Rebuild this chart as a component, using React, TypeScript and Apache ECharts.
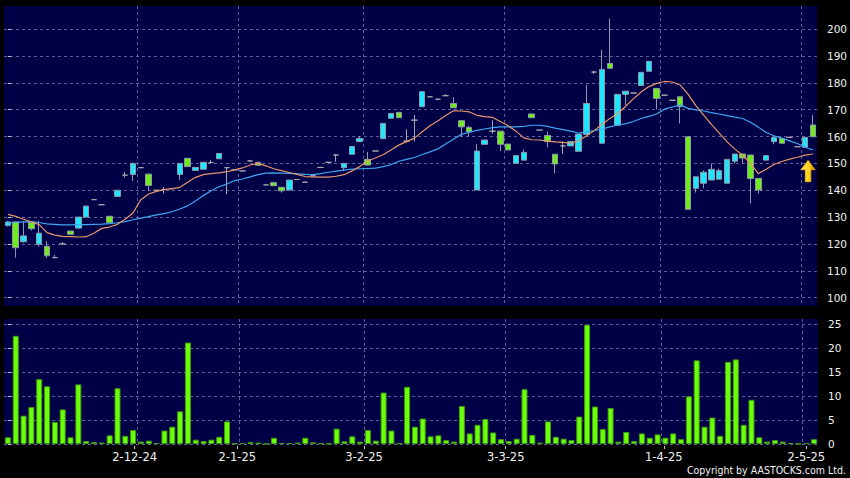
import { useEffect, useRef } from 'react';
import * as echarts from 'echarts';

// [open, close, low, high]
const candles: [number, number, number, number][] = [
  [126.9, 128.2, 126.5, 128.6], [128.2, 118.6, 114.9, 128.5], [120.8, 123.0, 120.5, 128.3], [128.1, 125.7, 125.0, 128.3],
  [119.9, 124.0, 119.0, 128.5], [119.1, 115.6, 114.8, 121.0], [114.9, 114.9, 114.9, 115.9], [120.0, 120.0, 119.8, 120.7],
  [124.8, 123.6, 123.4, 125.0], [125.9, 130.0, 125.9, 130.0], [130.0, 134.1, 130.0, 134.1], [136.5, 136.5, 136.5, 136.5],
  [134.6, 134.6, 134.6, 134.6], [130.3, 127.9, 127.9, 130.3], [137.7, 140.0, 137.7, 140.0], [145.6, 145.6, 144.8, 146.7],
  [145.9, 150.0, 143.5, 150.3], [148.4, 148.4, 148.4, 148.4], [146.0, 141.8, 139.8, 146.2], [140.0, 140.0, 140.0, 140.0],
  [140.3, 140.3, 138.9, 141.2], [140.6, 140.6, 140.6, 140.6], [145.9, 150.0, 143.8, 150.0], [151.9, 148.8, 148.8, 152.0],
  [147.4, 148.5, 147.4, 148.5], [147.8, 150.4, 147.8, 150.4], [150.3, 150.3, 150.3, 151.2], [151.7, 153.7, 151.7, 153.7],
  [148.4, 148.4, 138.5, 148.6], [147.6, 147.6, 147.6, 147.6], [147.2, 147.2, 147.2, 147.2], [150.9, 150.9, 150.9, 151.3],
  [150.4, 149.3, 149.3, 150.4], [142.0, 142.0, 142.0, 142.0], [142.8, 141.7, 141.5, 143.2], [141.1, 139.8, 139.1, 141.1],
  [140.1, 143.8, 140.1, 143.8], [144.0, 144.0, 144.0, 144.0], [143.0, 143.0, 143.0, 143.0], [145.4, 145.4, 145.4, 145.4],
  [148.5, 148.5, 148.5, 148.5], [150.4, 150.4, 150.4, 150.4], [153.1, 153.1, 150.6, 153.4], [148.4, 150.0, 147.2, 150.0],
  [153.4, 156.3, 153.4, 156.3], [158.1, 159.3, 158.1, 160.2], [151.5, 149.4, 149.2, 154.3], [154.6, 154.6, 154.6, 154.6],
  [159.2, 164.9, 159.2, 164.9], [166.8, 168.6, 166.8, 168.6], [169.0, 167.0, 167.0, 169.0], [158.3, 158.3, 157.8, 162.7],
  [166.1, 166.1, 158.2, 168.0], [171.1, 176.7, 171.1, 176.7], [174.8, 174.8, 174.8, 174.8], [173.9, 173.9, 173.5, 173.9],
  [175.2, 175.2, 175.2, 175.8], [172.3, 170.7, 170.7, 174.6], [165.9, 163.6, 159.9, 165.9], [163.4, 161.7, 160.0, 164.0],
  [140.1, 154.6, 140.1, 157.2], [157.1, 158.7, 157.1, 158.7], [162.0, 162.0, 161.0, 166.1], [162.0, 157.1, 154.6, 162.2],
  [157.2, 155.0, 155.0, 157.2], [150.0, 152.9, 150.0, 152.9], [151.2, 154.1, 151.2, 155.2], [168.4, 167.0, 167.0, 168.4],
  [162.4, 162.4, 162.4, 162.4], [160.4, 158.1, 156.0, 161.8], [153.4, 149.8, 146.3, 153.4], [156.5, 156.5, 153.5, 158.1],
  [156.5, 158.1, 156.5, 158.1], [154.5, 160.9, 154.5, 160.9], [160.8, 172.3, 160.8, 179.2], [184.0, 184.0, 183.3, 184.5],
  [157.5, 185.0, 157.5, 192.2], [187.2, 185.4, 185.4, 203.9], [164.2, 175.7, 164.2, 175.7], [175.7, 176.9, 171.7, 176.9],
  [176.2, 176.2, 176.2, 176.2], [179.0, 183.9, 179.0, 183.9], [184.3, 188.0, 184.3, 188.0], [177.9, 174.2, 170.1, 177.9],
  [175.4, 175.4, 175.4, 175.4], [173.5, 173.5, 173.5, 173.5], [174.8, 171.1, 164.9, 174.8], [159.9, 132.9, 132.9, 159.9],
  [140.7, 145.0, 139.1, 145.0], [142.6, 146.7, 140.8, 147.4], [143.8, 147.8, 143.8, 150.0], [144.1, 147.3, 144.1, 148.0],
  [142.6, 151.5, 142.6, 151.5], [150.8, 153.5, 150.0, 153.5], [153.5, 152.0, 150.0, 153.5], [153.1, 144.4, 135.1, 153.1],
  [144.4, 140.1, 138.8, 144.4], [151.2, 152.9, 151.2, 152.9], [158.1, 159.6, 157.1, 159.6], [159.3, 157.5, 157.5, 159.3],
  [159.7, 159.7, 159.7, 159.7], [156.2, 156.2, 156.2, 156.2], [156.0, 159.7, 156.0, 159.7], [164.3, 159.9, 159.9, 168.0],
];

const volumes = [
  1.4, 22.5, 5.9, 7.7, 13.5, 12.0, 4.6, 7.2, 1.4, 12.4,
  0.6, 0.4, 0.3, 1.8, 11.6, 1.7, 2.9, 0.5, 0.7, 0.2,
  2.8, 3.6, 6.8, 21.1, 0.9, 0.6, 0.9, 1.5, 4.7, 0.1,
  0.2, 0.4, 0.3, 0.05, 1.3, 0.2, 0.2, 0.3, 1.3, 0.35,
  0.15, 0.05, 3.2, 0.55, 1.6, 0.5, 2.9, 0.7, 10.7, 2.8,
  0.15, 11.9, 3.6, 5.3, 1.6, 1.8, 0.8, 0.5, 7.9, 2.2,
  4.0, 5.2, 2.4, 1.0, 0.6, 1.1, 11.4, 1.9, 0.3, 4.7,
  1.5, 1.1, 0.8, 5.7, 24.8, 7.8, 3.1, 7.5, 0.5, 2.5,
  0.6, 2.2, 1.3, 2.0, 1.3, 2.2, 1.0, 9.9, 17.4, 3.6,
  5.5, 1.7, 17.1, 17.6, 4.0, 9.2, 1.4, 0.5, 0.8, 0.5,
  0.2, 0.05, 0.2, 1.0,
];

const maShort = [
  131.0, 130.3, 129.2, 128.2, 127.2, 124.2, 123.3, 122.8, 122.7, 122.6,
  122.7, 124.0, 125.8, 126.3, 127.3, 129.2, 131.5, 136.5, 138.6, 139.6,
  140.2, 140.6, 141.1, 143.0, 144.8, 145.8, 146.2, 146.5, 146.9, 147.6,
  148.3, 149.4, 150.0, 149.1, 148.0, 147.3, 146.6, 145.9, 145.1, 145.0,
  144.9, 144.9, 145.2, 145.8, 147.2, 148.8, 150.8, 152.0, 153.2, 155.0,
  156.8, 158.1, 159.4, 161.8, 164.0, 165.8, 167.8, 169.6, 169.5, 169.2,
  167.9, 167.4, 167.1, 165.6, 164.0, 162.0, 159.5, 158.8, 158.7, 158.3,
  158.0, 157.8, 157.5, 158.4, 160.2, 162.2, 164.6, 166.7, 168.5, 171.2,
  174.0, 176.6, 178.6, 179.8, 180.5, 180.3, 179.2, 175.8, 171.5, 168.0,
  164.5, 161.3, 158.0, 155.3, 153.0, 150.0, 146.2, 147.8, 149.6, 150.7,
  151.6, 152.3, 153.1, 153.5,
];

const maLong = [
  127.9, 128.0, 128.2, 128.3, 128.0, 127.5, 127.3, 127.1, 127.1, 127.2,
  127.2, 127.3, 127.4, 127.6, 127.9, 128.3, 129.0, 129.6, 130.2, 130.8,
  131.3, 132.0, 133.0, 134.2, 136.0, 138.0, 139.8, 141.3, 142.3, 143.6,
  144.2, 145.0, 145.8, 146.4, 146.5, 146.4, 146.3, 146.1, 145.9, 145.8,
  146.2, 146.7, 147.1, 147.5, 147.9, 148.0, 148.1, 148.2, 148.8, 149.5,
  150.8, 151.5, 152.2, 153.3, 154.3, 155.4, 157.2, 159.0, 160.8, 161.6,
  162.3, 162.8, 163.3, 163.6, 163.6, 163.6, 163.8, 164.2, 164.2, 163.8,
  163.1, 162.6, 162.0, 161.3, 161.7, 162.2, 162.8, 163.6, 164.3, 164.7,
  165.6, 166.7, 167.5, 168.4, 170.2, 171.0, 171.8, 170.5, 169.9, 169.5,
  168.9, 168.4, 167.8, 167.2, 166.7, 165.3, 163.5, 161.5, 160.3, 159.4,
  158.4, 157.4, 156.0, 155.0,
];

const xTickLabels = ['2-12-24', '2-1-25', '3-2-25', '3-3-25', '1-4-25', '2-5-25'];
const xTickPositions = [16.2, 29.3, 45.5, 63.6, 83.8, 102.0];
const xGridPositions = [16.5, 29.5, 45.5, 63.5, 83.5, 101.5];
const priceTicks = [100, 110, 120, 130, 140, 150, 160, 170, 180, 190, 200];
const volumeTicks = [0, 5, 10, 15, 20, 25];
const arrowPrice = 147.2;

const categories = candles.map((_, i) => String(i));

const NAVY = '#000046';
const GRID_LINE = { color: '#5e5e96', type: [3, 3] as number[], width: 1 };
const FONT = 'DejaVu Sans';

export default function App() {
  const ref = useRef<HTMLDivElement>(null);

  useEffect(() => {
    if (!ref.current) return;
    const chart = echarts.init(ref.current, undefined, { renderer: 'svg' });
    const n = categories.length;
    const xMin = -0.5;
    const xMax = n - 0.5;

    const gridValueAxis = (gridIndex: number) => ({
      type: 'value',
      gridIndex,
      min: xMin,
      max: xMax,
      position: 'bottom',
      axisLine: { show: false },
      axisTick: { show: false, customValues: xGridPositions },
      axisLabel: { show: false, customValues: xGridPositions },
      splitLine: { show: true, lineStyle: GRID_LINE },
    });

    const option: any = {
      animation: false,
      backgroundColor: '#000000',
      grid: [
        { left: 4, top: 6, width: 814, height: 300, show: true, backgroundColor: NAVY, borderWidth: 0 },
        { left: 4, top: 319, width: 814, height: 125, show: true, backgroundColor: NAVY, borderWidth: 0 },
      ],
      xAxis: [
        { type: 'category', gridIndex: 0, data: categories, boundaryGap: true, show: false },
        gridValueAxis(0),
        { type: 'category', gridIndex: 1, data: categories, boundaryGap: true, show: false },
        gridValueAxis(1),
        {
          type: 'value',
          gridIndex: 1,
          min: xMin,
          max: xMax,
          position: 'bottom',
          offset: 2,
          axisLine: { show: false },
          axisTick: { show: true, length: 3, customValues: xTickPositions, lineStyle: { color: '#c8c8c8' } },
          axisLabel: {
            show: true,
            customValues: xTickPositions,
            margin: 5,
            color: '#f0f0f0',
            fontFamily: FONT,
            fontSize: 11.5,
            formatter: (v: number) => {
              let best = 0;
              for (let j = 1; j < xTickPositions.length; j++) {
                if (Math.abs(xTickPositions[j] - v) < Math.abs(xTickPositions[best] - v)) best = j;
              }
              return xTickLabels[best];
            },
          },
          splitLine: { show: false },
        },
      ],
      yAxis: [
        {
          type: 'value',
          gridIndex: 0,
          position: 'right',
          min: 96.9,
          max: 208.6,
          offset: 4,
          axisLine: { show: false },
          axisTick: { show: true, length: 3, customValues: priceTicks, lineStyle: { color: '#c8c8c8' } },
          axisLabel: { customValues: priceTicks, margin: 6, color: '#f0f0f0', fontFamily: FONT, fontSize: 10.5 },
          splitLine: { show: true, lineStyle: GRID_LINE },
        },
        {
          type: 'value',
          gridIndex: 1,
          position: 'right',
          min: 0,
          max: 26,
          offset: 4,
          axisLine: { show: false },
          axisTick: { show: true, length: 3, customValues: volumeTicks, lineStyle: { color: '#c8c8c8' } },
          axisLabel: { customValues: volumeTicks, margin: 6, color: '#f0f0f0', fontFamily: FONT, fontSize: 10.5 },
          splitLine: { show: true, lineStyle: GRID_LINE },
        },
      ],
      series: [
        {
          type: 'candlestick',
          xAxisIndex: 0,
          yAxisIndex: 0,
          data: candles,
          barWidth: 6,
          itemStyle: {
            color: '#1ee6ff',
            color0: '#70ec1e',
            borderColor: '#8e9aa8',
            borderColor0: '#8e9aa8',
            borderColorDoji: '#a4a8b0',
            borderWidth: 1,
          },
          markPoint: {
            silent: true,
            label: { show: false },
            data: [
              {
                coord: [categories[n - 1], arrowPrice],
                symbol: 'path://M7.5,0 L15,10 L10.5,10 L10.5,22 L4.5,22 L4.5,10 L0,10 Z',
                symbolSize: [15, 22],
                symbolOffset: [-5, 0],
                itemStyle: {
                  color: new echarts.graphic.LinearGradient(0, 0, 1, 0, [
                    { offset: 0, color: '#ffe866' },
                    { offset: 0.55, color: '#ffd21a' },
                    { offset: 1, color: '#c98a00' },
                  ]),
                  borderColor: '#a87400',
                  borderWidth: 0.6,
                },
              },
            ],
          },
        },
        {
          type: 'line',
          xAxisIndex: 0,
          yAxisIndex: 0,
          data: maLong,
          symbol: 'none',
          lineStyle: { color: '#3ea6f2', width: 1.2 },
        },
        {
          type: 'line',
          xAxisIndex: 0,
          yAxisIndex: 0,
          data: maShort,
          symbol: 'none',
          lineStyle: { color: '#e8946a', width: 1.2 },
        },
        {
          type: 'bar',
          xAxisIndex: 2,
          yAxisIndex: 1,
          data: volumes,
          barWidth: 6,
          itemStyle: { color: '#6cff0a', borderColor: '#3f9a12', borderWidth: 1 },
        },
      ],
      graphic: [
        {
          type: 'text',
          right: 4,
          top: 464,
          style: {
            text: 'Copyright by AASTOCKS.com Ltd.',
            fill: '#f0f0f0',
            fontFamily: "'DejaVu Sans Condensed', 'DejaVu Sans'",
            fontSize: 10.5,
          },
        },
      ],
    };

    chart.setOption(option);
    return () => chart.dispose();
  }, []);

  return (
    <div
      ref={ref}
      style={{ position: 'fixed', left: 0, top: 0, width: 850, height: 478, background: '#000000' }}
    />
  );
}
